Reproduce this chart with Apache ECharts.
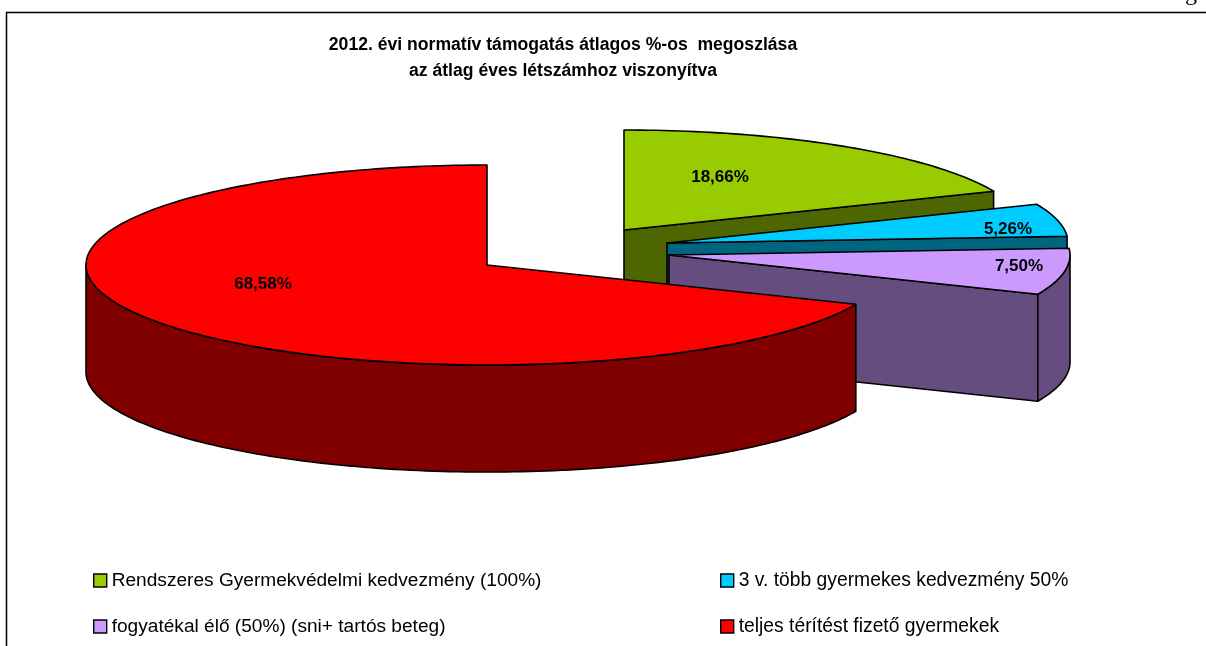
<!DOCTYPE html>
<html><head><meta charset="utf-8">
<style>html,body{margin:0;padding:0;background:#fff}#c{width:1206px;height:646px}</style>
<script src="https://cdn.jsdelivr.net/npm/echarts@6/dist/echarts.min.js"></script>
</head><body><div id="c"></div>
<script>
const categories = ['Rendszeres Gyermekvédelmi kedvezmény (100%)','3 v. több gyermekes kedvezmény 50%','fogyatékal élő (50%) (sni+ tartós beteg)','teljes térítést fizető gyermekek'];
const values = [18.66,5.26,7.50,68.58];
const valueLabels = ['18,66%','5,26%','7,50%','68,58%'];
const topColors = ['#99cc00','#00ccff','#cc99ff','#ff0000'];
const sideColors = ['#4d6600','#006680','#664d80','#800000'];
const centers = [[624,230],[667,243],[669,255],[487,265]];
const labelPos = [[720,177],[1008,229],[1019,266],[263,284]];
const RX = 401, RY = 100, DEPTH = 107;
const FONT = '"Liberation Sans", Arial, sans-serif';
const total = values.reduce((a,b)=>a+b,0);
const starts = []; values.reduce((acc,v,i)=>{starts[i]=acc;return acc+v;},0);
function pt(c,a,dy){ return [c[0]+RX*Math.sin(a), c[1]-RY*Math.cos(a)+(dy||0)]; }
function arc(c,a0,a1,dy){ const n=Math.max(2,Math.ceil((a1-a0)/0.02)); const out=[]; for(let k=0;k<=n;k++){out.push(pt(c,a0+(a1-a0)*k/n,dy));} return out; }
const line={stroke:'#000',lineWidth:1.6,lineJoin:'round'};
function renderSlice(i){
  return function(params,api){
    const v=api.value(0), c=centers[i];
    const a0=starts[i]/total*2*Math.PI, a1=a0+v/total*2*Math.PI;
    const kids=[];
    const P=(points,fill)=>kids.push({type:'polygon',shape:{points},style:Object.assign({fill},line)});
    const e1=pt(c,a1), e0=pt(c,a0);
    if(a1<Math.PI) P([c,e1,[e1[0],e1[1]+DEPTH],[c[0],c[1]+DEPTH]],sideColors[i]);
    if(a0>Math.PI) P([c,e0,[e0[0],e0[1]+DEPTH],[c[0],c[1]+DEPTH]],sideColors[i]);
    const r0=Math.max(a0,Math.PI/2), r1=Math.min(a1,3*Math.PI/2);
    if(r1>r0){ const up=arc(c,r0,r1,0), dn=arc(c,r0,r1,DEPTH).reverse(); P(up.concat(dn),sideColors[i]); }
    P([c].concat(arc(c,a0,a1,0)),topColors[i]);
    kids.push({type:'text',style:{x:labelPos[i][0],y:labelPos[i][1],text:valueLabels[i],align:'center',verticalAlign:'middle',font:'bold 17px '+FONT,fill:'#000'}});
    return {type:'group',children:kids};
  };
}
const series=categories.map((name,i)=>({type:'custom',name,coordinateSystem:'none',silent:true,animation:false,
  itemStyle:{color:topColors[i],borderColor:'#000',borderWidth:1},renderItem:renderSlice(i),data:[[values[i]]]}));
const legendBase={orient:'vertical',itemWidth:13,itemHeight:13,itemGap:25,icon:'rect',selectedMode:false,padding:0,itemStyle:{borderColor:'#000',borderWidth:1.4}};
const chart=echarts.init(document.getElementById('c'),null,{renderer:'canvas'});
chart.setOption({backgroundColor:'#fff',animation:false,
  title:{text:'2012. évi normatív támogatás átlagos %-os  megoszlása\naz átlag éves létszámhoz viszonyítva',left:563,top:32,padding:0,
    textAlign:'center',textStyle:{fontFamily:FONT,fontSize:17.6,fontWeight:'bold',color:'#000',lineHeight:26}},
  legend:[Object.assign({},legendBase,{left:93,top:570,data:[categories[0],categories[2]],textStyle:{fontFamily:FONT,fontSize:19.1,color:'#000',lineHeight:21}}),
          Object.assign({},legendBase,{left:720,top:570,data:[categories[1],categories[3]],textStyle:{fontFamily:FONT,fontSize:19.3,color:'#000',lineHeight:21}})],
  graphic:[{type:'polyline',silent:true,shape:{points:[[6.5,660],[6.5,12.5],[1210,12.5]]},style:{stroke:'#000',lineWidth:1.5,fill:null}},
           {type:'text',silent:true,style:{x:1197,y:6,text:'g',align:'right',verticalAlign:'bottom',font:'24px "Liberation Serif", serif',fill:'#000'}}],
  series});
</script></body></html>
